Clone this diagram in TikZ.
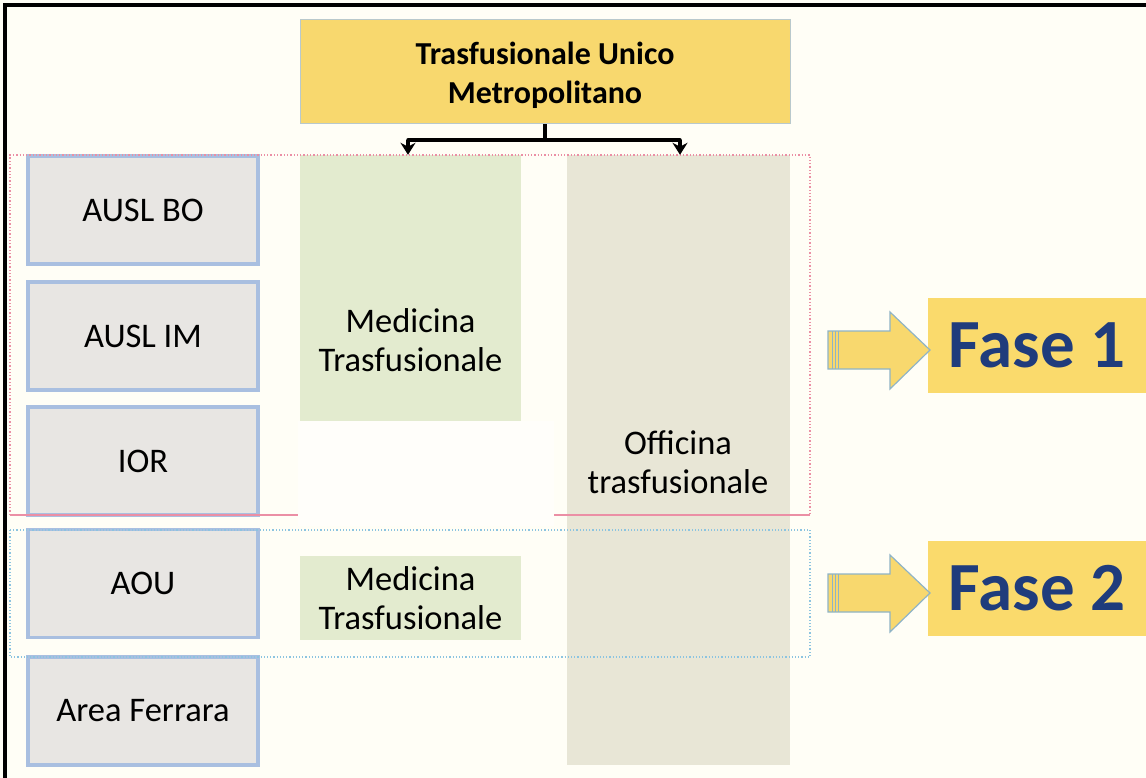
\documentclass[tikz,border=0pt]{standalone}
\usepackage{fontspec}
\setmainfont{Carlito}
\usetikzlibrary{arrows.meta}
\definecolor{bgc}{HTML}{FFFEF6}
\definecolor{topy}{HTML}{F8D86E}
\definecolor{topb}{HTML}{B9C9CC}
\definecolor{grayf}{HTML}{E8E6E3}
\definecolor{boxb}{HTML}{A9BFE0}
\definecolor{greenf}{HTML}{E3EBCF}
\definecolor{offf}{HTML}{E8E6D6}
\definecolor{pinkd}{HTML}{EB8FA5}
\definecolor{blued}{HTML}{8CC4E0}
\definecolor{fasec}{HTML}{1F3C7C}
\definecolor{arrb}{HTML}{8FB4C6}
\definecolor{fasey}{HTML}{FADA6C}
\tikzset{
  txt/.style={font=\fontsize{34.5}{39}\selectfont, align=center, text=black},
  entbox/.style={txt, draw=boxb, line width=3.5pt, fill=grayf, minimum width=230pt, minimum height=108pt, inner sep=0pt},
  colbox/.style={txt, fill=#1, minimum width=221pt, inner sep=0pt},
  fasebox/.style={fill=fasey, minimum width=218pt, minimum height=95pt, inner sep=0pt, text=fasec, font=\fontsize{69}{72}\selectfont\bfseries},
  fasearrow/.style={fill=topy, draw=arrb, line width=1.2pt, line join=miter},
  conn/.style={line width=3.5pt, draw=black},
  tipconn/.style={conn, -{Stealth[length=12pt,width=15pt]}}
}
\begin{document}
\begin{tikzpicture}[x=1pt,y=-1pt]
\useasboundingbox (0,0) rectangle (1146,778);
\fill[bgc] (0,0) rectangle (1146,778);
% frame lines (left and top)
\draw[line width=4pt, black] (5,778) -- (5,5) -- (1146,5);

% columns
\node[colbox=greenf, minimum height=370pt] (med1) at (410.5,340) {Medicina\\Trasfusionale};
\node[colbox=offf, minimum width=223pt, minimum height=610pt] (off) at (678.5,460) {};
\node[colbox=greenf, minimum height=84pt] (med2) at (410.5,598) {Medicina\\Trasfusionale};

% left boxes
\node[entbox] (ausbo) at (143,210) {AUSL BO};
\node[entbox] (ausim) at (143,336) {AUSL IM};
\node[entbox] (ior) at (143,461) {IOR};
\node[entbox] (aou) at (143,583.5) {AOU};
\node[entbox] (fer) at (143,711) {Area Ferrara};

% dotted phase frames
\draw[pinkd, line width=1.3pt, dotted] (10,515) -- (10,155) -- (810,155) -- (810,515);
\draw[pinkd, line width=2pt] (10,515) -- (810,515);
\draw[blued, line width=1.2pt, dotted] (10,530) rectangle (810,657);

% white mask
\fill[bgc!50!white] (298,421) rectangle (554,526);

% officina label
\node[txt] (offl) at (678,462) {Officina\\trasfusionale};

% top box
\node[txt, font=\fontsize{32}{39}\selectfont\bfseries, fill=topy, draw=topb, line width=1pt, minimum width=490pt, minimum height=104pt, inner sep=0pt, text depth=0pt] (tum) at (545,72) {};
\node[txt, font=\fontsize{32}{39}\selectfont\bfseries] (tumt) at (545,75) {Trasfusionale Unico\\Metropolitano};

% connectors
\coordinate (j) at (545,140);
\coordinate (jl) at (408,140);
\coordinate (jr) at (680,140);
\draw[conn] (tum.south) -- (j);
\draw[conn, line cap=round] (jl) -- (jr);
\draw[tipconn] (jl) -- (jl |- med1.north);
\draw[tipconn] (jr) -- (jr |- off.north);

% fase boxes
\node[fasebox] (f1) at (1037,345.5) {Fase 1};
\node[fasebox] (f2) at (1037,588.5) {Fase 2};

% fase arrows
\foreach \dy in {0, 243} {
  \begin{scope}[yshift=-\dy pt]
    \draw[fasearrow] (828,331) -- (890,331) -- (890,312) -- (930,350) -- (890,389) -- (890,369) -- (828,369) -- cycle;
    \draw[arrb, line width=0.8pt] (832,331) -- (832,369) (835,331) -- (835,369) (838,331) -- (838,369);
  \end{scope}
}
\end{tikzpicture}
\end{document}
